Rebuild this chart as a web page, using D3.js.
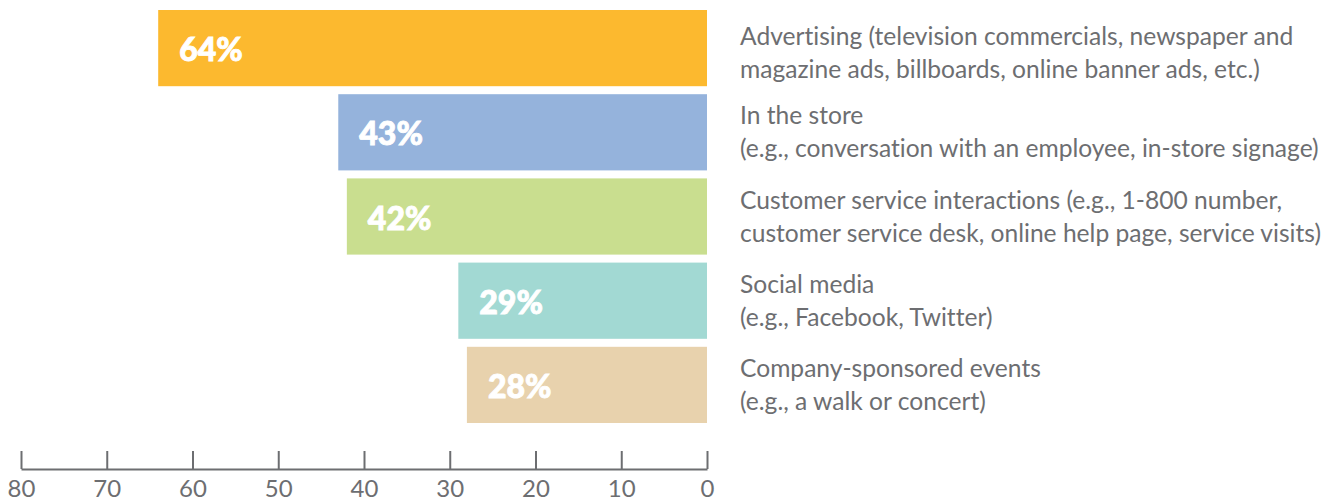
<!DOCTYPE html>
<html>
<head>
<meta charset="utf-8">
<script src="https://cdn.jsdelivr.net/npm/d3@7"></script>
<style>
  html, body { margin: 0; padding: 0; background: #ffffff; }
  svg { display: block; }
  text { font-variant-ligatures: none; font-feature-settings: "liga" 0; }
</style>
</head>
<body>
<svg id="chart" width="1336" height="501"></svg>
<script>
// Share of respondents naming each channel
const categories = [
  "Advertising",
  "In the store",
  "Customer service interactions",
  "Social media",
  "Company-sponsored events"
];
const values = [64, 43, 42, 29, 28];
const labelLines = [
  ["Advertising (television commercials, newspaper and", "magazine ads, billboards, online banner ads, etc.)"],
  ["In the store", "(e.g., conversation with an employee, in-store signage)"],
  ["Customer service interactions (e.g., 1-800 number,", "customer service desk, online help page, service visits)"],
  ["Social media", "(e.g., Facebook, Twitter)"],
  ["Company-sponsored events", "(e.g., a walk or concert)"]
];
const colors = ["#fcb92f", "#95b3dc", "#c9de8f", "#a2d9d3", "#e8d2ad"];
const tickValues = [80, 70, 60, 50, 40, 30, 20, 10, 0];

const svg = d3.select("#chart");
const textColor = "#6d6e71";
const font = "Lato, 'Open Sans', sans-serif";

// Reversed axis: 0 on the right, bars grow leftwards
const x = d3.scaleLinear().domain([80, 0]).range([21, 707]);
const y = d3.scaleBand().domain(categories).range([10, 423]).paddingInner(0.095).paddingOuter(0);

const rows = categories.map((c, i) => ({ cat: c, value: values[i], color: colors[i], lines: labelLines[i] }));

svg.append("g").selectAll("rect")
  .data(rows)
  .join("rect")
  .attr("x", d => x(d.value))
  .attr("y", d => y(d.cat))
  .attr("width", d => x(0) - x(d.value))
  .attr("height", y.bandwidth())
  .attr("fill", d => d.color);

// Percent values inside each bar (thin stroke for a heavier weight)
svg.append("g").selectAll("text")
  .data(rows)
  .join("text")
  .attr("x", d => x(d.value) + 21)
  .attr("y", d => y(d.cat) + y.bandwidth() / 2 + 13)
  .attr("fill", "#ffffff")
  .attr("stroke", "#ffffff")
  .attr("stroke-width", 0.9)
  .attr("font-family", font)
  .attr("font-weight", 900)
  .attr("font-size", 32)
  .text(d => d.value + "%");

// Two-line channel descriptions to the right of the bars
const firstLineShift = [5, 0, 0, 0, 0];
const lab = svg.append("g").selectAll("text")
  .data(rows)
  .join("text")
  .attr("font-family", font)
  .attr("font-size", 24.6)
  .attr("fill", textColor);
lab.each(function(d, i) {
  const t = d3.select(this);
  const cy = y(d.cat) + y.bandwidth() / 2 + firstLineShift[i];
  d.lines.forEach((line, k) => {
    t.append("tspan").attr("x", 740).attr("y", cy - 8 + k * 33).text(line);
  });
});

// Value axis along the bottom, ticks pointing up
const axis = d3.axisBottom(x)
  .tickValues(tickValues)
  .tickSizeInner(-18)
  .tickSizeOuter(0)
  .tickPadding(11)
  .tickFormat(d3.format("d"));

const gAxis = svg.append("g")
  .attr("transform", "translate(0,469)")
  .call(axis);
gAxis.select(".domain").attr("stroke", textColor).attr("stroke-width", 2);
gAxis.selectAll(".tick line").attr("stroke", textColor).attr("stroke-width", 2);
gAxis.selectAll(".tick text")
  .attr("fill", textColor)
  .attr("font-family", font)
  .attr("font-size", 24);
</script>
</body>
</html>
